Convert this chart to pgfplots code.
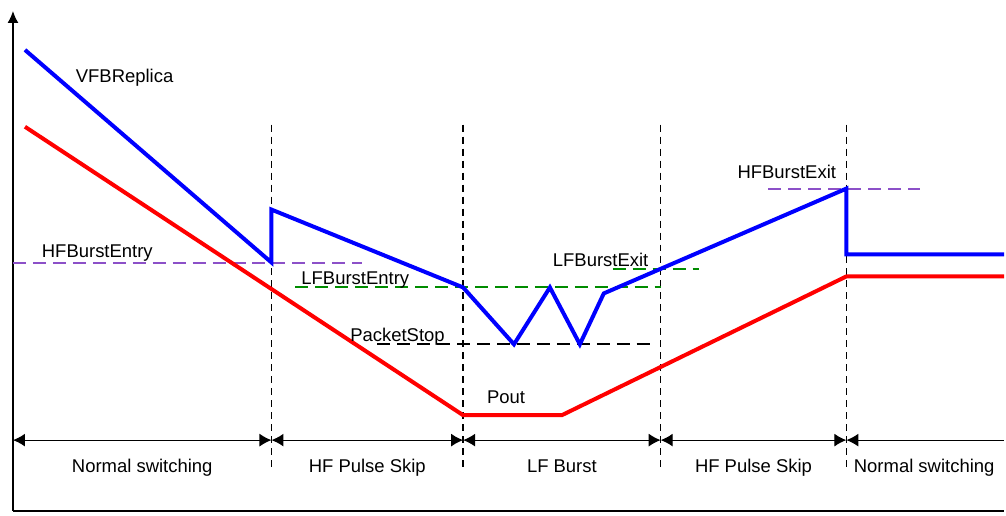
\documentclass[border=0pt]{standalone}
\usepackage{fontspec}
\setmainfont{Liberation Sans}
\usepackage{pgfplots}
\pgfplotsset{compat=1.18}
\usetikzlibrary{arrows.meta}
\definecolor{vfb}{RGB}{0,0,255}
\definecolor{pout}{RGB}{255,0,0}
\definecolor{hfth}{RGB}{140,80,200}
\definecolor{lfth}{RGB}{0,140,0}
\tikzset{lbl/.style={font=\fontsize{9.25}{11}\selectfont, inner sep=0pt, outer sep=0pt}}

\begin{document}
\begin{tikzpicture}
\begin{axis}[
    scale only axis,
    width=503pt, height=258.5pt,
    xmin=0, xmax=1006, ymin=0, ymax=517,
    y dir=reverse,
    hide axis,
    clip=false,
]
% keep the full frame in the bounding box
\path (axis cs:0,0) rectangle (axis cs:1006,517);

% axes
\draw[line width=0.75pt, -{Latex[length=6pt,width=5.5pt]}] (axis cs:13,512) -- (axis cs:13,11);
\draw[line width=0.75pt] (axis cs:13,512) -- (axis cs:1006,512);

% mode boundaries
\tikzset{mb/.style={line width=0.6pt, dash pattern=on 3.5pt off 2.5pt}}
\draw[mb] (axis cs:272,125) -- (axis cs:272,470);
\draw[mb] (axis cs:464,125) -- (axis cs:464,470);
\draw[mb] (axis cs:662,125) -- (axis cs:662,470);
\draw[mb] (axis cs:848,125) -- (axis cs:848,470);

% mode arrows
\tikzset{marr/.style={line width=0.6pt, {Latex[length=6pt,width=6.5pt]}-{Latex[length=6pt,width=6.5pt]}}}
\draw[marr] (axis cs:13,441) -- (axis cs:272,441);
\draw[marr] (axis cs:272,441) -- (axis cs:464,441);
\draw[marr] (axis cs:464,441) -- (axis cs:662,441);
\draw[marr] (axis cs:662,441) -- (axis cs:848,441);
\draw[line width=0.6pt, {Latex[length=6pt,width=6.5pt]}-] (axis cs:848,441) -- (axis cs:1006,441);

% thresholds
\addplot[hfth, line width=1pt, dash pattern=on 6.5pt off 3.5pt] coordinates {(13,264) (363,264)};
\addplot[hfth, line width=1pt, dash pattern=on 6.5pt off 3.5pt] coordinates {(770,189) (922,189)};
\addplot[lfth, line width=1pt, dash pattern=on 6.5pt off 3.5pt] coordinates {(296,288) (662,288)};
\addplot[lfth, line width=1pt, dash pattern=on 6.5pt off 3.5pt] coordinates {(614,270) (700,270)};
\addplot[black, line width=1pt, dash pattern=on 6.5pt off 3.5pt] coordinates {(378,345) (658,345)};

% Pout
\addplot[pout, line width=2pt, line join=round] coordinates {
  (25,127) (464,416) (563,416) (848,277) (1006,277)};
% VFBReplica
\addplot[vfb, line width=2pt, line join=miter] coordinates {
  (25,50) (272,263) (272,210) (464,288) (515,345) (551,288)
  (581,345) (605,294) (848,189) (848,255) (1006,255)};

% labels
\node[lbl, anchor=base west] at (axis cs:76,83) {VFBReplica};
\node[lbl, anchor=base west] at (axis cs:42,258) {HFBurstEntry};
\node[lbl, anchor=base west] at (axis cs:302,285) {LFBurstEntry};
\node[lbl, anchor=base west] at (axis cs:351,342) {PacketStop};
\node[lbl, anchor=base west] at (axis cs:554,267) {LFBurstExit};
\node[lbl, anchor=base west] at (axis cs:739,179) {HFBurstExit};
\node[lbl, anchor=base west] at (axis cs:488,404) {Pout};

\node[lbl, anchor=base] at (axis cs:142.5,473) {Normal switching};
\node[lbl, anchor=base] at (axis cs:368,473) {HF Pulse Skip};
\node[lbl, anchor=base] at (axis cs:563,473) {LF Burst};
\node[lbl, anchor=base] at (axis cs:755,473) {HF Pulse Skip};
\node[lbl, anchor=base] at (axis cs:926,473) {Normal switching};
\end{axis}
\end{tikzpicture}
\end{document}
